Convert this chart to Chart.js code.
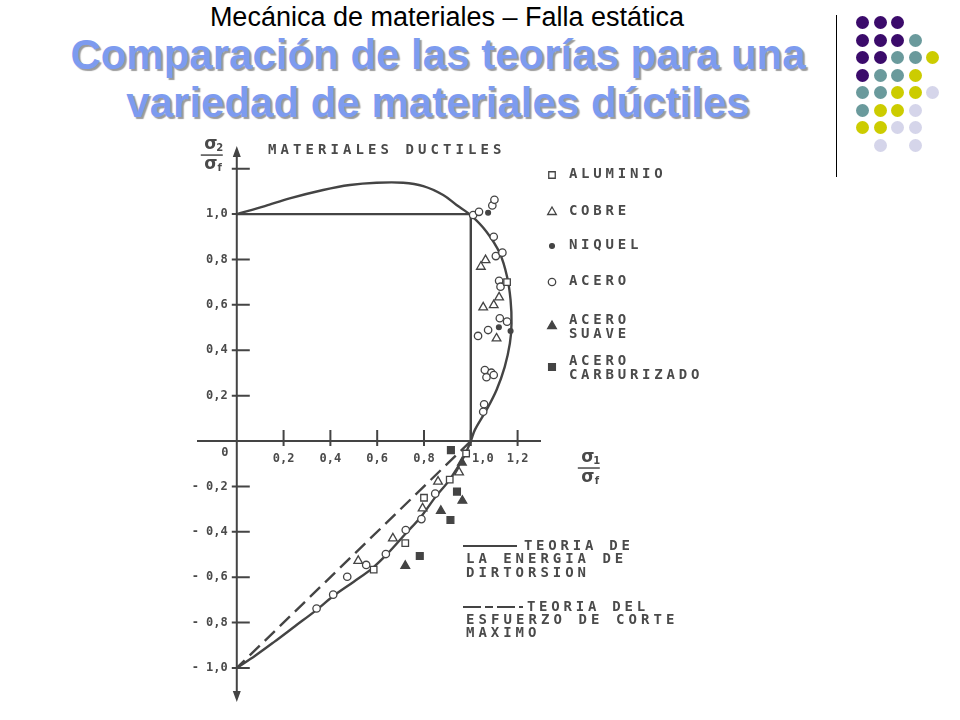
<!DOCTYPE html>
<html lang="es">
<head>
<meta charset="utf-8">
<title>Comparación de las teorías</title>
<script src="https://cdn.jsdelivr.net/npm/chart.js"></script>
<style>
body{margin:0;background:#fff;width:960px;height:720px;overflow:hidden;position:relative;font-family:"Liberation Sans",Arial,sans-serif}
#wrap{position:absolute;left:0;top:0;width:960px;height:720px}
.t1{position:absolute;left:0;top:4px;width:894px;text-align:center;font-size:27px;line-height:1;color:#000;white-space:nowrap}
.t2{position:absolute;left:0;width:876px;text-align:center;font-size:42px;font-weight:bold;line-height:1;color:#7d9bef;text-shadow:2px 2px 1px #9c9c9c;white-space:nowrap}
.dot{position:absolute;width:13px;height:13px;border-radius:50%}
#vline{position:absolute;left:836px;top:15px;width:1px;height:162px;background:#000}
</style>
</head>
<body>
<div class="t1">Mecánica de materiales – Falla estática</div>
<div class="t2" style="top:34px">Comparación de las teorías para una</div>
<div class="t2" style="top:82px">variedad de materiales dúctiles</div>
<div id="vline"></div>
<div id="dots"></div>
<div id="wrap"><canvas id="myChart"></canvas></div>
<script>
// curva de la energia de distorsion
const distX = [0, 0.12, 0.226, 0.369, 0.483, 0.597, 0.711, 0.797, 0.882, 0.939, 1.0,
  1.067, 1.124, 1.155, 1.17, 1.174, 1.167, 1.145, 1.11, 1.067, 1.017, 1.0,
  0.97, 0.91, 0.85, 0.79, 0.72, 0.65, 0.58, 0.50, 0.41, 0.34, 0.25, 0.16, 0.08, 0];
const distY = [1.0, 1.035, 1.069, 1.106, 1.128, 1.138, 1.138, 1.123, 1.084, 1.040, 0.995,
  0.922, 0.827, 0.724, 0.621, 0.518, 0.43, 0.327, 0.225, 0.137, 0.048, 0,
  -0.07, -0.17, -0.245, -0.33, -0.41, -0.49, -0.56, -0.62, -0.685, -0.745, -0.815, -0.885, -0.945, -1.0];

// esfuerzo cortante maximo
const corteX = [0, 1, 1];
const corteY = [1, 1, 0];
const corteDashX = [1, 0];
const corteDashY = [0, -1];

// ensayos
const aluminioX = [1.155, 0.98, 0.91, 0.80, 0.72, 0.585];
const aluminioY = [0.70, -0.055, -0.17, -0.25, -0.45, -0.567];
const cobreX = [1.063, 1.043, 1.121, 1.098, 1.053, 1.110, 0.950, 0.860, 0.794, 0.667, 0.519];
const cobreY = [0.797, 0.768, 0.633, 0.599, 0.589, 0.452, -0.138, -0.179, -0.297, -0.429, -0.528];
const niquelX = [1.074, 1.12, 1.17];
const niquelY = [1.006, 0.501, 0.485];
const aceroX = [1.010, 1.035, 1.092, 1.101, 1.098, 1.107, 1.135, 1.121, 1.127, 1.124, 1.155, 1.074, 1.031,
  1.060, 1.088, 1.067, 1.098, 1.057, 1.053, 0.341, 0.412, 0.472, 0.553, 0.637, 0.722, 0.789, 0.848];
const aceroY = [0.996, 1.010, 1.038, 1.063, 0.900, 0.815, 0.830, 0.706, 0.680, 0.541, 0.526, 0.489, 0.463,
  0.313, 0.301, 0.281, 0.291, 0.162, 0.129, -0.738, -0.677, -0.598, -0.546, -0.498, -0.392, -0.344, -0.232];
const suaveX = [0.962, 0.964, 0.872, 0.72];
const suaveY = [-0.095, -0.263, -0.308, -0.55];
const carbX = [0.915, 0.941, 0.913, 0.782];
const carbY = [-0.04, -0.223, -0.348, -0.507];

const materiales = ['ALUMINIO', 'COBRE', 'NIQUEL', 'ACERO', 'ACERO\nSUAVE', 'ACERO\nCARBURIZADO'];
const teorias = ['TEORIA DE\nLA ENERGIA DE\nDIRTORSION', 'TEORIA DEL\nESFUERZO DE CORTE\nMAXIMO'];

const xTicks = [0.2, 0.4, 0.6, 0.8, 1.0, 1.2];
const xTickLabels = ['0,2', '0,4', '0,6', '0,8', '1,0', '1,2'];
const yTicks = [1.2, 1.0, 0.8, 0.6, 0.4, 0.2, -0.2, -0.4, -0.6, -0.8, -1.0];
const yTickLabels = ['', '1,0', '0,8', '0,6', '0,4', '0,2', '- 0,2', '- 0,4', '- 0,6', '- 0,8', '- 1,0'];

// decoracion de puntos
const dotRows = ['PPP..', 'PPPT.', 'PPTTY', 'PTTY.', 'TTYYL', 'TYYL.', 'YYLL.', '.L.L.'];
const dotColors = {P: '#3b0b6b', T: '#6a9a9c', Y: '#cccc00', L: '#d5d5ea'};
const dotsEl = document.getElementById('dots');
dotRows.forEach((row, r) => {
  [...row].forEach((c, i) => {
    if (c === '.') return;
    const d = document.createElement('div');
    d.className = 'dot';
    d.style.left = (856 + i * 17.5) + 'px';
    d.style.top = (16.2 + r * 17.5) + 'px';
    d.style.background = dotColors[c];
    dotsEl.appendChild(d);
  });
});

const ink = '#444';
const textInk = '#4a4a4a';
const mono = '"DejaVu Sans Mono", monospace';
const pts = (xs, ys) => xs.map((v, i) => ({x: v, y: ys[i]}));

function markerSet(label, xs, ys, style, r, filled) {
  return {
    label: label, data: pts(xs, ys), order: 1,
    pointStyle: style, pointRadius: r, pointHoverRadius: r,
    pointBorderColor: ink, pointBackgroundColor: filled ? ink : '#fff', pointBorderWidth: 1.3,
    _filled: filled
  };
}

function spaced(ctx, s, x, y, adv) {
  for (let i = 0; i < s.length; i++) ctx.fillText(s[i], x + i * adv + adv / 2, y);
}

function marker(ctx, style, r, filled, x, y) {
  ctx.beginPath();
  if (style === 'circle') ctx.arc(x, y, r, 0, Math.PI * 2);
  else if (style === 'triangle') {
    ctx.moveTo(x, y - r); ctx.lineTo(x + r * 0.866, y + r * 0.5); ctx.lineTo(x - r * 0.866, y + r * 0.5); ctx.closePath();
  } else {
    const s = r * Math.SQRT1_2; ctx.rect(x - s, y - s, 2 * s, 2 * s);
  }
  ctx.fillStyle = filled ? ink : '#fff';
  ctx.fill(); ctx.stroke();
}

const overlay = {
  id: 'overlay',
  beforeDatasetsDraw(chart) {
    const {ctx, chartArea: a, scales: {x, y}} = chart;
    const x0 = x.getPixelForValue(0), y0 = y.getPixelForValue(0);
    ctx.save();
    ctx.strokeStyle = ink; ctx.fillStyle = ink; ctx.lineWidth = 2;
    ctx.beginPath();
    ctx.moveTo(a.left, y0); ctx.lineTo(a.right, y0);
    ctx.moveTo(x0, a.top + 6); ctx.lineTo(x0, a.bottom - 6);
    xTicks.forEach(v => { const p = x.getPixelForValue(v); ctx.moveTo(p, y0 - 11); ctx.lineTo(p, y0 + 5); });
    yTicks.forEach(v => { const p = y.getPixelForValue(v); ctx.moveTo(x0 - 5, p); ctx.lineTo(x0 + 13, p); });
    ctx.stroke();
    ctx.beginPath();
    ctx.moveTo(x0, a.top); ctx.lineTo(x0 - 4, a.top + 11); ctx.lineTo(x0 + 4, a.top + 11); ctx.closePath();
    ctx.moveTo(x0, a.bottom); ctx.lineTo(x0 - 4, a.bottom - 11); ctx.lineTo(x0 + 4, a.bottom - 11); ctx.closePath();
    ctx.fill();
    ctx.restore();
  },
  afterDraw(chart) {
    const {ctx, scales: {x, y}} = chart;
    const x0 = x.getPixelForValue(0), y0 = y.getPixelForValue(0);
    ctx.save();
    ctx.fillStyle = textInk;
    ctx.textBaseline = 'middle';

    // etiquetas de los ejes
    ctx.font = 'bold 12px ' + mono;
    ctx.textAlign = 'center';
    xTicks.forEach((v, i) => {
      const dx = v === 1 ? 12 : 0;
      ctx.fillText(xTickLabels[i], x.getPixelForValue(v) + dx, y0 + 18);
    });
    ctx.fillText('0', x0 - 12, y0 + 12);
    ctx.textAlign = 'right';
    yTicks.forEach((v, i) => ctx.fillText(yTickLabels[i], x0 - 9, y.getPixelForValue(v)));

    // sigma2 / sigmaf
    ctx.strokeStyle = textInk; ctx.lineWidth = 1.5;
    ctx.textAlign = 'center';
    const frac = (cx, cy, sub) => {
      ctx.font = 'bold 17px "DejaVu Sans"';
      ctx.fillText('σ', cx, cy - 10);
      ctx.fillText('σ', cx, cy + 10);
      ctx.font = 'bold 10px "DejaVu Sans"';
      ctx.fillText(sub, cx + 9, cy - 7);
      ctx.fillText('f', cx + 9, cy + 13);
      ctx.beginPath(); ctx.moveTo(cx - 10, cy); ctx.lineTo(cx + 12, cy); ctx.stroke();
    };
    frac(x0 - 26, y.getPixelForValue(1.26), '2');
    frac(x.getPixelForValue(1.5), y0 + 27, '1');

    // titulo del grafico
    ctx.font = 'bold 14px ' + mono;
    spaced(ctx, 'MATERIALES DUCTILES', 266, 150, 12.5);

    // leyenda de materiales
    const legY = [174, 211, 245, 281, 320, 361];
    chart.data.datasets.forEach((ds, i) => {
      if (i >= materiales.length) return;
      ctx.strokeStyle = ink; ctx.lineWidth = 1.3;
      marker(ctx, ds.pointStyle, ds.pointRadius, ds._filled, 552, legY[i] + (i > 3 ? 6 : 1));
      ctx.fillStyle = textInk;
      ds.label.split('\n').forEach((line, k) => spaced(ctx, line, 567, legY[i] + k * 14, 12.2));
    });

    // leyenda de teorias
    ctx.strokeStyle = ink; ctx.lineWidth = 2.2;
    ctx.beginPath(); ctx.moveTo(463, 546); ctx.lineTo(517, 546); ctx.stroke();
    ctx.setLineDash([18, 4, 8, 4]);
    ctx.beginPath(); ctx.moveTo(463, 607); ctx.lineTo(523, 607); ctx.stroke();
    ctx.setLineDash([]);
    ctx.fillStyle = textInk;
    const t1 = teorias[0].split('\n'), t2 = teorias[1].split('\n');
    spaced(ctx, t1[0], 522, 546, 12.2);
    spaced(ctx, t1[1], 464, 559.5, 12.4);
    spaced(ctx, t1[2], 464, 573, 12.4);
    spaced(ctx, t2[0], 525, 607, 12.2);
    spaced(ctx, t2[1], 464, 620, 12.5);
    spaced(ctx, t2[2], 464, 633.5, 12.4);
    ctx.restore();
  }
};

const lineSet = (xs, ys, tension, dash) => ({
  data: pts(xs, ys), showLine: true, order: 2,
  borderColor: ink, borderWidth: 2.4, borderDash: dash || [],
  pointRadius: 0, pointHoverRadius: 0, tension: tension, fill: false
});

const config = {
  type: 'scatter',
  data: {
    datasets: [
      markerSet(materiales[0], aluminioX, aluminioY, 'rect', 4.6, false),
      markerSet(materiales[1], cobreX, cobreY, 'triangle', 5, false),
      markerSet(materiales[2], niquelX, niquelY, 'circle', 2.4, true),
      markerSet(materiales[3], aceroX, aceroY, 'circle', 3.7, false),
      markerSet(materiales[4], suaveX, suaveY, 'triangle', 5, true),
      markerSet(materiales[5], carbX, carbY, 'rect', 4.8, true),
      Object.assign(lineSet(distX, distY, 0.35), {label: teorias[0]}),
      Object.assign(lineSet(corteX, corteY, 0), {label: teorias[1]}),
      Object.assign(lineSet(corteDashX, corteDashY, 0, [14, 7]), {label: teorias[1]})
    ]
  },
  options: {
    responsive: true,
    maintainAspectRatio: false,
    animation: false,
    events: [],
    layout: {padding: {left: 197, right: 419, top: 146, bottom: 18}},
    scales: {
      x: {type: 'linear', min: -0.17, max: 1.3, display: false},
      y: {type: 'linear', min: -1.15, max: 1.3, display: false}
    },
    plugins: {legend: {display: false}, tooltip: {enabled: false}}
  },
  plugins: [overlay]
};

const myChart = new Chart(document.getElementById('myChart'), config);
</script>
</body>
</html>
